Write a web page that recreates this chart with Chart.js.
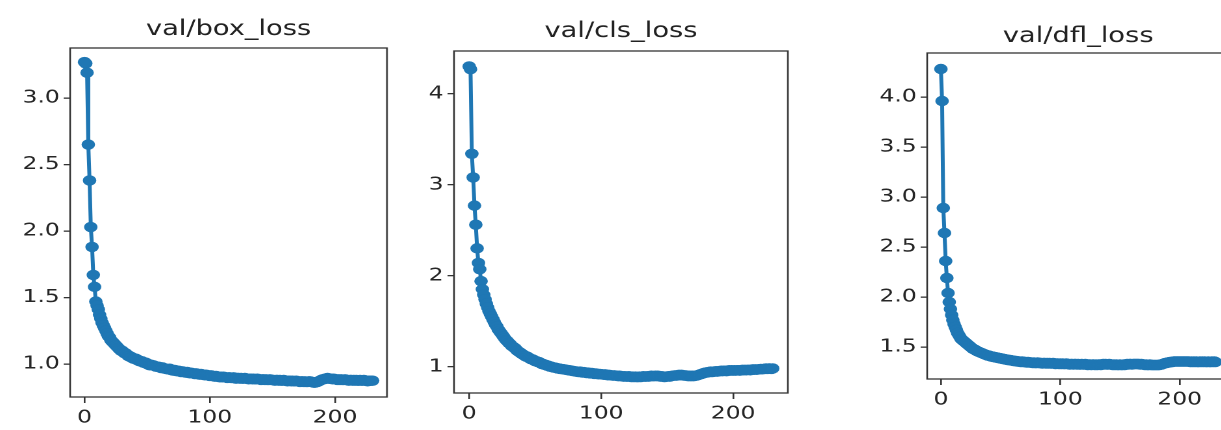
<!DOCTYPE html>
<html>
<head>
<meta charset="utf-8">
<script src="https://cdn.jsdelivr.net/npm/chart.js@4.4.1/dist/chart.umd.min.js"></script>
<style>
  body { margin: 0; background: #fff; }
  #lienzo { position: relative; width: 1221px; height: 430px; overflow: hidden; background: #fff; }
  #lienzo canvas { position: absolute; top: 0; height: 430px; }
</style>
</head>
<body>
<div id="lienzo">
  <canvas id="graficoBox" width="308" height="430" style="left:0px;width:400px;height:430px"></canvas>
  <canvas id="graficoCls" width="315" height="430" style="left:400px;width:410px;height:430px"></canvas>
  <canvas id="graficoDfl" width="338" height="430" style="left:810px;width:440px;height:430px"></canvas>
</div>
<script>
// Datos (un valor por época, 0..230)
const titulos = ['val/box_loss', 'val/cls_loss', 'val/dfl_loss'];

const boxLoss = [
  3.27, 3.26, 3.19, 2.65, 2.38, 2.03, 1.88, 1.67, 1.58, 1.47,
  1.44, 1.41, 1.37, 1.34, 1.31, 1.29, 1.27, 1.25, 1.23, 1.21,
  1.20, 1.18, 1.17, 1.16, 1.15, 1.14, 1.13, 1.12, 1.11, 1.10,
  1.10, 1.09, 1.08, 1.08, 1.07, 1.06, 1.06, 1.05, 1.05, 1.04,
  1.04, 1.04, 1.03, 1.03, 1.02, 1.02, 1.02, 1.01, 1.01, 1.01,
  1.00, 1.00, 0.99, 0.995, 0.99, 0.99, 0.985, 0.98, 0.98, 0.98,
  0.975, 0.97, 0.975, 0.97, 0.965, 0.965, 0.96, 0.96, 0.965, 0.955,
  0.955, 0.95, 0.955, 0.95, 0.945, 0.95, 0.945, 0.94, 0.945, 0.94,
  0.94, 0.935, 0.94, 0.935, 0.93, 0.935, 0.93, 0.93, 0.925, 0.93,
  0.925, 0.925, 0.92, 0.925, 0.92, 0.92, 0.915, 0.92, 0.915, 0.915,
  0.91, 0.915, 0.91, 0.91, 0.905, 0.91, 0.905, 0.905, 0.90, 0.905,
  0.90, 0.905, 0.90, 0.90, 0.895, 0.90, 0.90, 0.895, 0.895, 0.90,
  0.895, 0.89, 0.895, 0.895, 0.89, 0.895, 0.89, 0.89, 0.895, 0.89,
  0.89, 0.885, 0.89, 0.89, 0.885, 0.89, 0.885, 0.885, 0.89, 0.885,
  0.885, 0.88, 0.885, 0.885, 0.88, 0.885, 0.88, 0.88, 0.885, 0.88,
  0.88, 0.88, 0.875, 0.88, 0.88, 0.875, 0.88, 0.875, 0.875, 0.88,
  0.875, 0.875, 0.87, 0.875, 0.875, 0.87, 0.875, 0.87, 0.87, 0.875,
  0.87, 0.87, 0.865, 0.87, 0.87, 0.865, 0.87, 0.865, 0.865, 0.87,
  0.87, 0.865, 0.865, 0.86, 0.86, 0.865, 0.865, 0.87, 0.875, 0.88,
  0.885, 0.885, 0.89, 0.89, 0.895, 0.89, 0.89, 0.89, 0.885, 0.89,
  0.885, 0.885, 0.88, 0.885, 0.88, 0.885, 0.88, 0.88, 0.885, 0.88,
  0.88, 0.875, 0.88, 0.88, 0.875, 0.88, 0.875, 0.88, 0.875, 0.875,
  0.88, 0.875, 0.875, 0.88, 0.875, 0.875, 0.87, 0.875, 0.875, 0.875,
  0.875
];

const clsLoss = [
  4.30, 4.27, 3.34, 3.08, 2.77, 2.56, 2.30, 2.14, 2.07, 1.94,
  1.85, 1.79, 1.74, 1.69, 1.65, 1.61, 1.58, 1.55, 1.52, 1.49,
  1.46, 1.44, 1.41, 1.39, 1.37, 1.35, 1.33, 1.31, 1.29, 1.28,
  1.26, 1.25, 1.23, 1.22, 1.21, 1.20, 1.18, 1.17, 1.16, 1.15,
  1.14, 1.13, 1.12, 1.11, 1.11, 1.10, 1.09, 1.08, 1.08, 1.07,
  1.06, 1.06, 1.05, 1.05, 1.04, 1.03, 1.03, 1.02, 1.02, 1.01,
  1.01, 1.00, 1.00, 0.995, 0.99, 0.99, 0.985, 0.98, 0.98, 0.975,
  0.975, 0.97, 0.97, 0.965, 0.965, 0.96, 0.96, 0.955, 0.955, 0.95,
  0.95, 0.945, 0.945, 0.94, 0.945, 0.94, 0.935, 0.94, 0.935, 0.93,
  0.935, 0.93, 0.925, 0.93, 0.925, 0.92, 0.925, 0.92, 0.915, 0.92,
  0.915, 0.915, 0.91, 0.915, 0.91, 0.905, 0.91, 0.905, 0.905, 0.90,
  0.905, 0.90, 0.90, 0.895, 0.90, 0.895, 0.895, 0.89, 0.895, 0.89,
  0.89, 0.895, 0.89, 0.885, 0.89, 0.885, 0.89, 0.885, 0.885, 0.89,
  0.885, 0.89, 0.895, 0.89, 0.89, 0.895, 0.89, 0.895, 0.90, 0.895,
  0.895, 0.90, 0.895, 0.90, 0.895, 0.89, 0.895, 0.89, 0.885, 0.89,
  0.89, 0.895, 0.89, 0.895, 0.90, 0.90, 0.905, 0.90, 0.905, 0.91,
  0.905, 0.91, 0.905, 0.90, 0.905, 0.90, 0.895, 0.90, 0.895, 0.90,
  0.895, 0.90, 0.90, 0.905, 0.91, 0.915, 0.92, 0.925, 0.93, 0.935,
  0.935, 0.94, 0.94, 0.945, 0.94, 0.945, 0.945, 0.95, 0.945, 0.95,
  0.95, 0.955, 0.95, 0.955, 0.955, 0.95, 0.955, 0.96, 0.955, 0.96,
  0.955, 0.96, 0.955, 0.96, 0.96, 0.955, 0.96, 0.965, 0.96, 0.965,
  0.96, 0.965, 0.965, 0.96, 0.965, 0.97, 0.965, 0.97, 0.965, 0.97,
  0.97, 0.975, 0.97, 0.975, 0.975, 0.98, 0.975, 0.98, 0.98, 0.975,
  0.98
];

const dflLoss = [
  4.28, 3.96, 2.89, 2.64, 2.36, 2.19, 2.04, 1.95, 1.88, 1.82,
  1.77, 1.73, 1.70, 1.67, 1.64, 1.62, 1.60, 1.58, 1.57, 1.56,
  1.55, 1.54, 1.53, 1.52, 1.51, 1.50, 1.49, 1.48, 1.475, 1.47,
  1.46, 1.455, 1.45, 1.445, 1.44, 1.435, 1.43, 1.425, 1.42, 1.415,
  1.415, 1.41, 1.405, 1.405, 1.40, 1.40, 1.395, 1.395, 1.39, 1.39,
  1.385, 1.385, 1.38, 1.38, 1.375, 1.375, 1.37, 1.37, 1.37, 1.365,
  1.365, 1.36, 1.36, 1.36, 1.355, 1.355, 1.355, 1.35, 1.355, 1.35,
  1.35, 1.35, 1.345, 1.35, 1.345, 1.345, 1.345, 1.34, 1.345, 1.34,
  1.34, 1.345, 1.34, 1.34, 1.34, 1.335, 1.34, 1.34, 1.335, 1.34,
  1.335, 1.34, 1.335, 1.335, 1.34, 1.335, 1.33, 1.335, 1.335, 1.33,
  1.335, 1.33, 1.335, 1.33, 1.33, 1.335, 1.33, 1.33, 1.325, 1.33,
  1.33, 1.325, 1.33, 1.33, 1.325, 1.33, 1.325, 1.325, 1.33, 1.325,
  1.325, 1.33, 1.325, 1.32, 1.325, 1.325, 1.32, 1.325, 1.325, 1.32,
  1.325, 1.32, 1.325, 1.325, 1.32, 1.325, 1.33, 1.325, 1.33, 1.325,
  1.325, 1.33, 1.325, 1.325, 1.32, 1.325, 1.32, 1.325, 1.32, 1.32,
  1.325, 1.32, 1.32, 1.325, 1.32, 1.325, 1.33, 1.325, 1.33, 1.33,
  1.325, 1.33, 1.33, 1.33, 1.33, 1.33, 1.33, 1.325, 1.33, 1.325,
  1.325, 1.32, 1.325, 1.32, 1.32, 1.325, 1.32, 1.32, 1.32, 1.32,
  1.32, 1.32, 1.32, 1.32, 1.325, 1.325, 1.33, 1.335, 1.34, 1.34,
  1.345, 1.345, 1.35, 1.35, 1.35, 1.355, 1.355, 1.355, 1.355, 1.355,
  1.355, 1.355, 1.355, 1.355, 1.355, 1.355, 1.355, 1.355, 1.355, 1.35,
  1.355, 1.35, 1.355, 1.35, 1.355, 1.35, 1.35, 1.355, 1.35, 1.355,
  1.35, 1.355, 1.35, 1.35, 1.355, 1.35, 1.35, 1.355, 1.35, 1.355,
  1.35
];

// Etiquetas de los ejes
const ticksX = [0, 100, 200];
const ticksBox = [1.0, 1.5, 2.0, 2.5, 3.0];
const ticksCls = [1, 2, 3, 4];
const ticksDfl = [1.5, 2.0, 2.5, 3.0, 3.5, 4.0];

const AZUL = '#1f77b4';
const GRIS = '#333333';
const FUENTE = "'DejaVu Sans', sans-serif";

// Marco y título dibujados sobre el área del gráfico
const marcoPlugin = {
  id: 'marco',
  afterDraw(chart, args, opts) {
    const { ctx, chartArea: a } = chart;
    ctx.save();
    ctx.strokeStyle = GRIS;
    ctx.lineWidth = 1.3;
    ctx.strokeRect(a.left, a.top, a.right - a.left, a.bottom - a.top);
    ctx.fillStyle = '#222';
    ctx.font = `21px ${FUENTE}`;
    ctx.textAlign = 'center';
    ctx.textBaseline = 'alphabetic';
    ctx.fillText(opts.texto, (a.left + a.right) / 2, opts.base);
    ctx.restore();
  }
};

// Función para crear cada subgráfico
function crearGrafico(id, titulo, valores, ticksY, decimales, rangoY, caja) {
  const ctx = document.getElementById(id).getContext('2d');
  const puntos = valores.map((v, i) => ({ x: i, y: v }));

  return new Chart(ctx, {
    type: 'line',
    data: {
      datasets: [{
        data: puntos,
        borderColor: AZUL,
        backgroundColor: AZUL,
        borderWidth: 3,
        pointRadius: 5.2,
        pointBorderWidth: 0,
        pointBackgroundColor: AZUL,
        tension: 0
      }]
    },
    options: {
      responsive: false,
      animation: false,
      devicePixelRatio: 2,
      layout: { padding: { top: caja.arriba, right: caja.derecha, left: 0, bottom: 0 } },
      plugins: {
        legend: { display: false },
        tooltip: { enabled: false },
        marco: { texto: titulo, base: caja.baseTitulo }
      },
      scales: {
        x: {
          type: 'linear',
          min: -11.5,
          max: 241.5,
          border: { display: false },
          grid: { drawOnChartArea: false, drawTicks: true, tickLength: 6, color: GRIS, lineWidth: 1.3 },
          ticks: { padding: 4, color: '#262626', font: { family: FUENTE, size: 18 } },
          afterBuildTicks: scale => { scale.ticks = ticksX.map(v => ({ value: v })); },
          afterFit: scale => { scale.height = caja.altoX; }
        },
        y: {
          type: 'linear',
          min: rangoY[0],
          max: rangoY[1],
          border: { display: false },
          grid: { drawOnChartArea: false, drawTicks: true, tickLength: 5, color: GRIS, lineWidth: 1.3 },
          ticks: {
            padding: 3,
            color: '#262626',
            font: { family: FUENTE, size: 18 },
            callback: v => v.toFixed(decimales)
          },
          afterBuildTicks: scale => { scale.ticks = ticksY.map(v => ({ value: v })); },
          afterFit: scale => { scale.width = caja.anchoY; }
        }
      }
    },
    plugins: [marcoPlugin]
  });
}

document.addEventListener('DOMContentLoaded', function() {
  crearGrafico('graficoBox', titulos[0], boxLoss, ticksBox, 1, [0.752, 3.376],
    { arriba: 48, derecha: 10, anchoY: 54, altoX: 33, baseTitulo: 35 });
  crearGrafico('graficoCls', titulos[1], clsLoss, ticksCls, 0, [0.71, 4.47],
    { arriba: 51, derecha: 17, anchoY: 41.5, altoX: 37, baseTitulo: 37 });
  crearGrafico('graficoDfl', titulos[2], dflLoss, ticksDfl, 1, [1.18, 4.44],
    { arriba: 53, derecha: 16, anchoY: 90, altoX: 51, baseTitulo: 42 });
});
</script>
</body>
</html>
